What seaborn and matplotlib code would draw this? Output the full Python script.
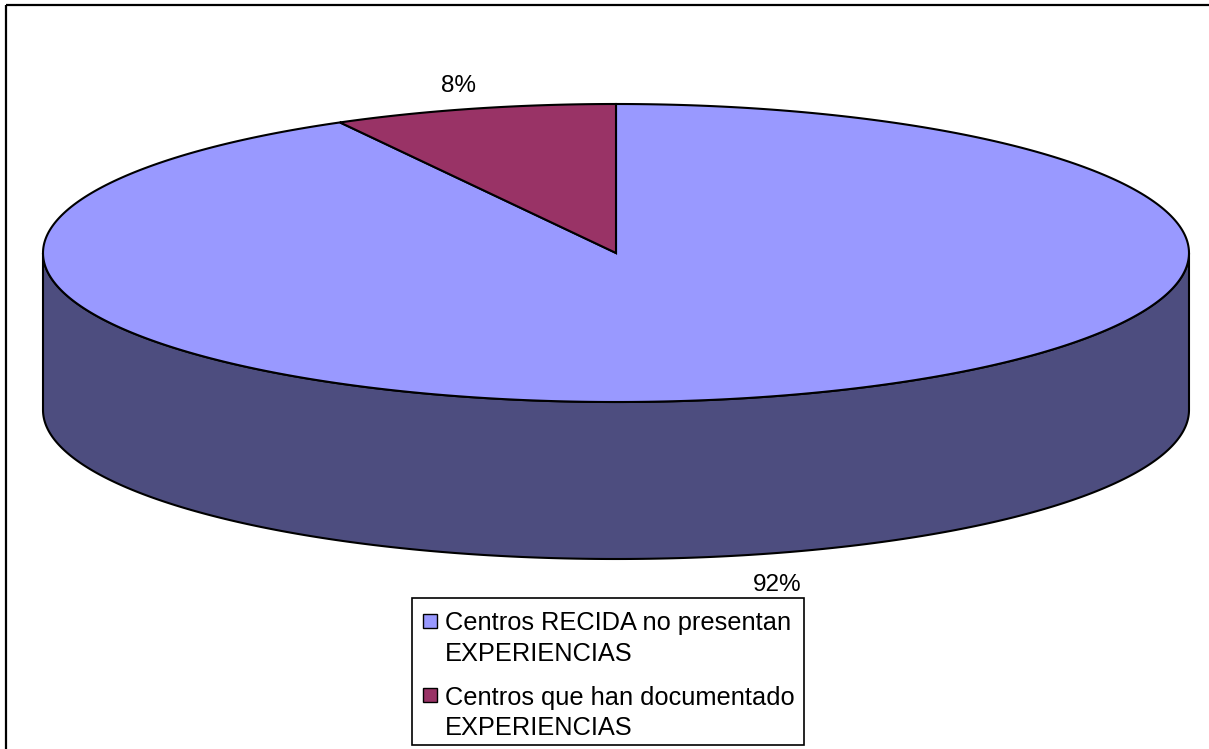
import numpy as np
import matplotlib
matplotlib.use("Agg")
import matplotlib.pyplot as plt
import seaborn as sns
from matplotlib.patches import Polygon, Rectangle
from matplotlib.legend_handler import HandlerBase

# --- Data ---
labels = ["Centros RECIDA no presentan\nEXPERIENCIAS",
          "Centros que han documentado\nEXPERIENCIAS"]
values = [92, 8]
pct_labels = ["92%", "8%"]
top_colors = ["#9999FF", "#993366"]
side_colors = ["#4D4D7F", "#4D1A33"]

sns.set_style("white")
plt.rcParams['font.family'] = ['Liberation Sans', 'DejaVu Sans']
plt.rcParams['text.color'] = 'black'

fig = plt.figure(figsize=(12.09, 7.49), dpi=100)
ax = fig.add_axes([0, 0, 1, 1])
ax.set_xlim(0, 1209)
ax.set_ylim(749, 0)
ax.axis('off')

# pie geometry (pixels)
cx, cy, rx, ry, depth = 616, 253, 573, 149, 157


def ell(t):
    t = np.radians(t)
    return cx + rx * np.cos(t), cy - ry * np.sin(t)


# slice angles: clockwise from 12 o'clock
total = sum(values)
spans = []
start = 90.0
for v in values:
    end = start - v / total * 360
    spans.append((end, start))
    start = end

# --- Side wall (front half only) ---
for (lo, hi), col in zip(spans, side_colors):
    for off in (-360, 0, 360):
        a = max(lo, 180 + off)
        b = min(hi, 360 + off)
        if b <= a:
            continue
        t = np.linspace(a, b, 300)
        xs, ys = ell(t)
        pts = np.column_stack([np.r_[xs, xs[::-1]], np.r_[ys, ys[::-1] + depth]])
        ax.add_patch(Polygon(pts, closed=True, facecolor=col, edgecolor='black', lw=1.5, zorder=1))

# --- Top face ---
for (lo, hi), col in zip(spans, top_colors):
    t = np.linspace(lo, hi, 400)
    xs, ys = ell(t)
    pts = np.column_stack([np.r_[cx, xs], np.r_[cy, ys]])
    ax.add_patch(Polygon(pts, closed=True, facecolor=col, edgecolor='black', lw=1.5, zorder=2))

# percent labels
ax.text(802, 585, pct_labels[0], ha='right', va='center', fontsize=17.5, color='black')
ax.text(458, 86, pct_labels[1], ha='center', va='center', fontsize=17.5, color='black')

# outer chart frame
ax.add_patch(Rectangle((6, 4.5), 1400, 1000, fill=False, edgecolor='black', lw=1.6, zorder=5))

# legend frame
ax.add_patch(Rectangle((412, 598), 392, 147, facecolor='white', edgecolor='black', lw=1.2, zorder=6))


# legend square aligned with first line of label
class TopSquare(HandlerBase):
    def create_artists(self, legend, orig_handle, xdescent, ydescent,
                       width, height, fontsize, trans):
        s = fontsize * 0.56
        p = Rectangle((-xdescent + width - s, fontsize * 0.80), s, s,
                      facecolor=orig_handle.get_facecolor(), edgecolor='black',
                      lw=1.0, transform=trans)
        return [p]


handles = [Rectangle((0, 0), 1, 1, facecolor=c) for c in top_colors]
leg = fig.legend(handles, labels, loc='lower left', bbox_to_anchor=(412 / 1209, 1 - 750 / 749),
                 fontsize=18.3, frameon=False,
                 handler_map={Rectangle: TopSquare()}, handlelength=0.6, handletextpad=0.28,
                 labelspacing=0.78, borderpad=0.4, borderaxespad=0)
leg.set_zorder(10)
for txt in leg.get_texts():
    txt.set_linespacing(1.33)
    txt.set_color('black')

fig.savefig("out.png", dpi=100)
